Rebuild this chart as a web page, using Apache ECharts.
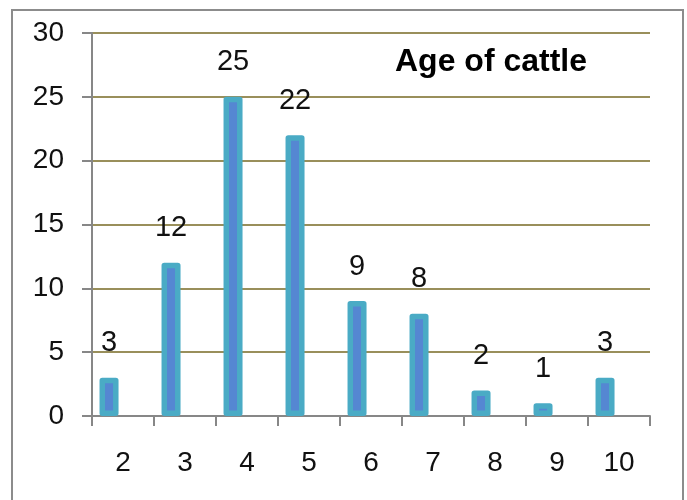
<!DOCTYPE html>
<html>
<head>
<meta charset="utf-8">
<script src="https://cdn.jsdelivr.net/npm/echarts@6/dist/echarts.min.js"></script>
<style>
    html, body { margin: 0; padding: 0; background: #fff; }
    #chart { width: 687px; height: 500px; }
</style>
</head>
<body>
<div id="chart"></div>
<script>
// age of cattle (years) and how many
var ages = ['2', '3', '4', '5', '6', '7', '8', '9', '10'];
var counts = [3, 12, 25, 22, 9, 8, 2, 1, 3];
var yTicks = [0, 5, 10, 15, 20, 25, 30];

var numFont = '"Liberation Sans", sans-serif';

var myChart = echarts.init(document.getElementById('chart'), null, {renderer: 'canvas'});

myChart.setOption({
    animation: false,
    backgroundColor: '#fff',
    title: {
        text: 'Age of cattle',
        left: 395,
        top: 46,
        padding: 0,
        textStyle: {
            fontFamily: '"Liberation Sans", sans-serif',
            fontWeight: 'bold',
            fontSize: 32,
            color: '#000'
        }
    },
    graphic: [{
        type: 'rect',
        shape: {x: 12, y: 10, width: 671, height: 500},
        style: {fill: 'none', stroke: '#8c8c8c', lineWidth: 2},
        silent: true
    }],
    grid: {left: 92, right: 37, top: 33, bottom: 84, containLabel: false},
    xAxis: {
        type: 'category',
        data: ages,
        boundaryGap: true,
        axisLine: {lineStyle: {color: '#878787', width: 2}},
        axisTick: {show: true, length: 10, lineStyle: {color: '#878787', width: 2}},
        axisLabel: {
            margin: 33,
            fontFamily: numFont,
            fontSize: 28,
            color: '#111'
        }
    },
    yAxis: {
        type: 'value',
        min: yTicks[0],
        max: yTicks[yTicks.length - 1],
        interval: 5,
        axisLine: {show: true, lineStyle: {color: '#878787', width: 2}},
        axisTick: {show: true, length: 10, lineStyle: {color: '#878787', width: 2}},
        axisLabel: {
            margin: 28,
            fontFamily: numFont,
            fontSize: 28,
            color: '#111'
        },
        splitLine: {show: true, lineStyle: {color: '#998f5b', width: 2}}
    },
    series: [
        {
            name: 'cattle',
            type: 'bar',
            data: counts,
            barWidth: 19,
            barGap: '47%',
            itemStyle: {
                color: '#5587d2',
                borderColor: '#4aabc5',
                borderWidth: 5.5,
                borderJoin: 'round'
            },
            label: {
                show: true,
                position: 'top',
                distance: 20,
                fontFamily: numFont,
                fontSize: 29,
                color: '#111'
            }
        },
        {
            // empty slot, pushes the real bars to the left like the original
            name: 'blank',
            type: 'bar',
            data: ages.map(function() { return '-'; }),
            barWidth: 19,
            barGap: '47%'
        }
    ]
});
</script>
</body>
</html>
